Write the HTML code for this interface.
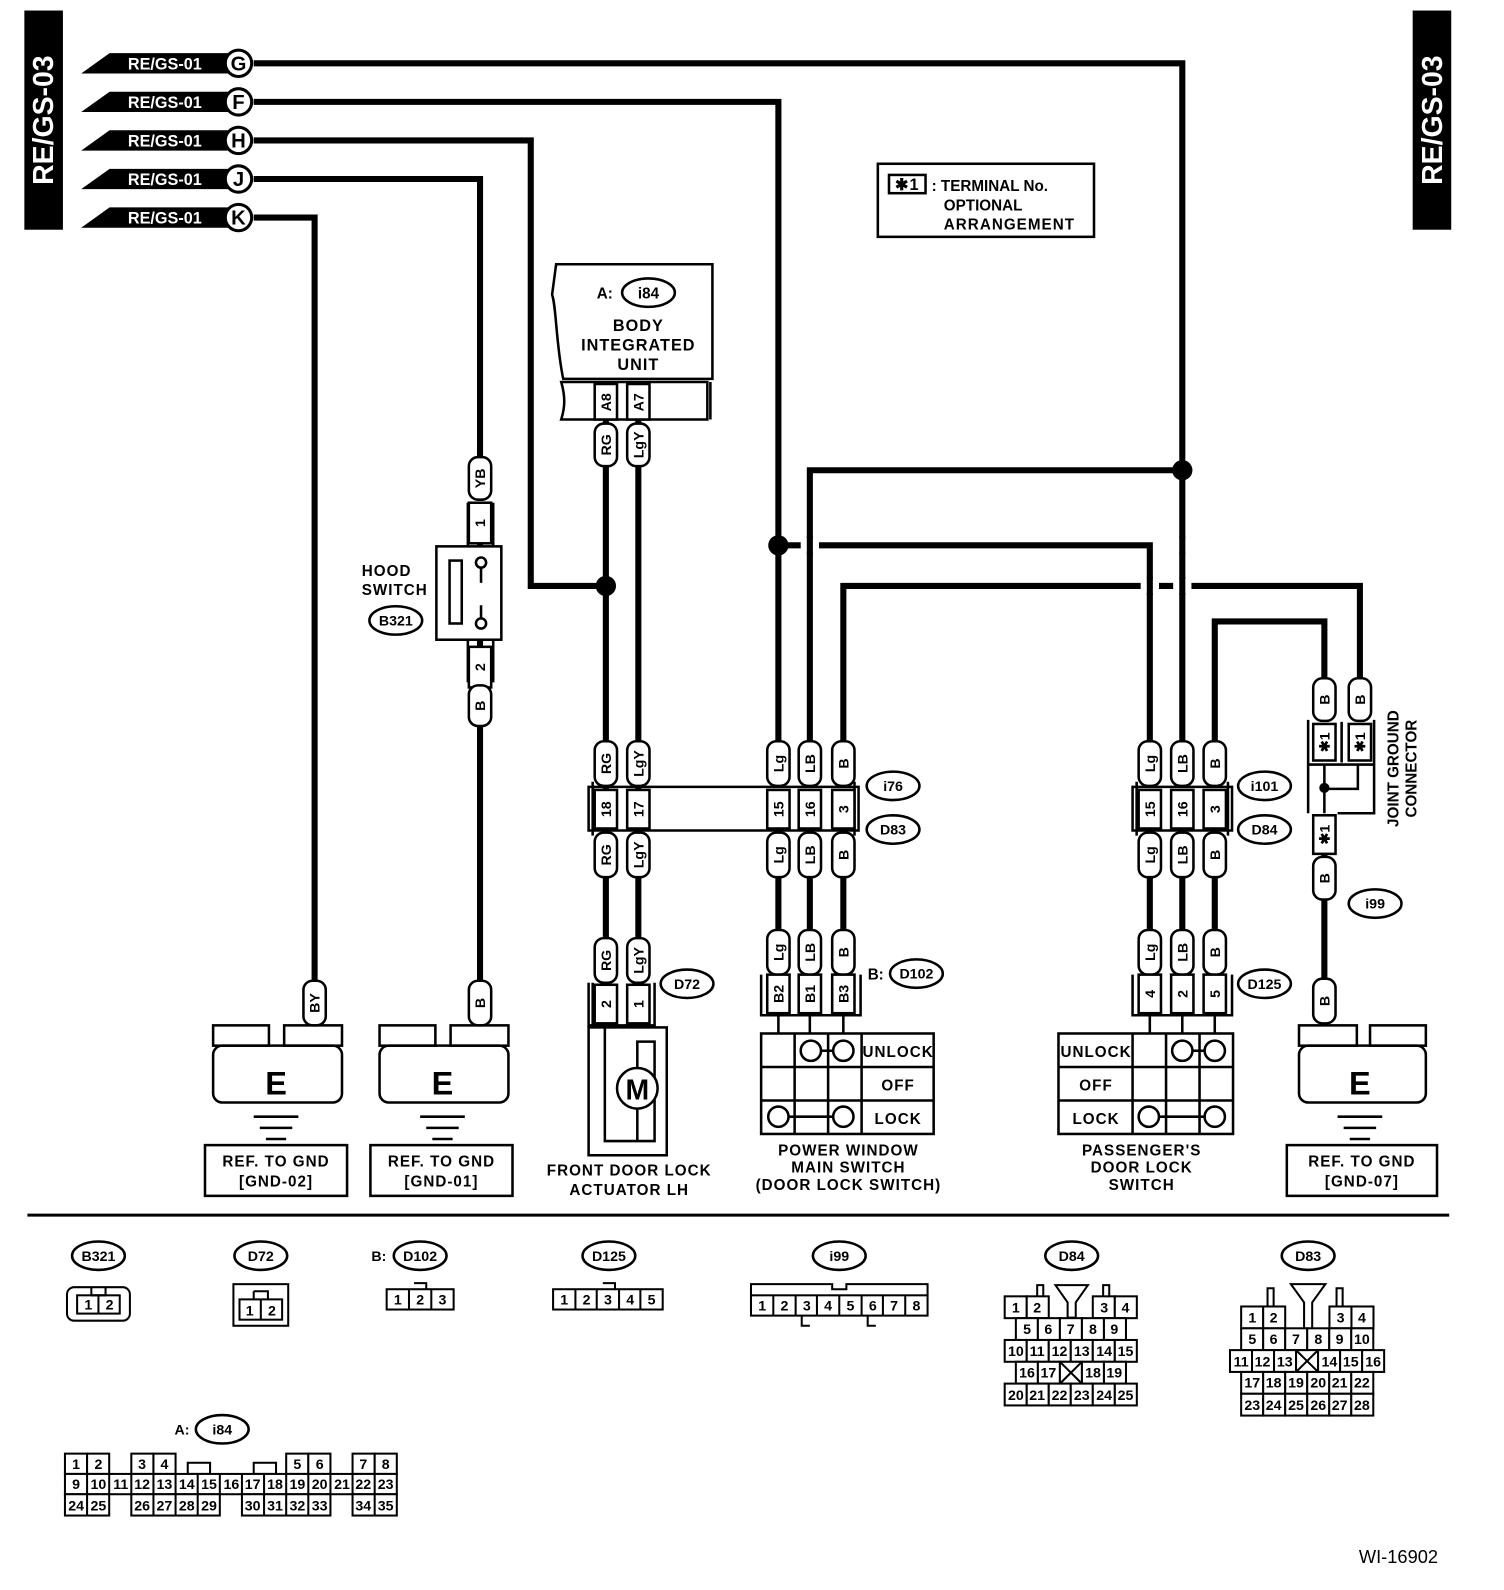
<!DOCTYPE html>
<html><head><meta charset="utf-8"><style>
html,body{margin:0;padding:0;background:#fff}
svg{display:block}
text{font-family:"Liberation Sans",sans-serif;font-weight:bold;fill:#000}
.w{fill:none;stroke:#000;stroke-width:6}
.t{fill:none;stroke:#000;stroke-width:2.5}
.lb{fill:#fff;stroke:#000;stroke-width:2.5}
.v{font-size:14px;text-anchor:middle}
.c{font-size:14px;text-anchor:middle;font-weight:normal}
.s{font-size:16px;text-anchor:middle;letter-spacing:1px}
</style></head><body>
<svg width="1504" height="1590" viewBox="0 0 1482 1566" xmlns="http://www.w3.org/2000/svg">
<rect x="24" y="10" width="38" height="216" fill="#000"/>
<text transform="translate(52,118) rotate(-90)" style="fill:#fff;font-size:28px;text-anchor:middle">RE/GS-03</text>
<rect x="1392" y="10" width="38" height="216" fill="#000"/>
<text transform="translate(1421,118) rotate(-90)" style="fill:#fff;font-size:28px;text-anchor:middle">RE/GS-03</text>

<path class="w" d="M250 62H1165V775"/>
<path class="w" d="M250 100H767V760"/>
<path class="w" d="M250 138H523V577H597"/>
<path class="w" d="M250 176H473V455"/>
<path class="w" d="M250 214H310V965"/>
<path class="w" d="M1165 463H798V760"/>
<path class="w" d="M767 537H1133V760"/>
<path class="w" d="M831 760V577H1340V680"/>
<path class="w" d="M1197 760V612H1305V680"/>
<rect x="789" y="530" width="18" height="14" fill="#fff"/><path class="w" d="M798 528V546"/>
<rect x="1124" y="570" width="18" height="14" fill="#fff"/><path class="w" d="M1133 568V586"/>
<rect x="1156" y="570" width="18" height="14" fill="#fff"/><path class="w" d="M1165 568V586"/>
<rect x="1156" y="530" width="18" height="14" fill="#fff"/><path class="w" d="M1165 528V546"/>
<circle cx="1165" cy="463" r="10"/><circle cx="767" cy="537" r="10"/><circle cx="597" cy="577" r="10"/>
<path class="w" d="M597 413V965M629 413V965"/>
<path class="w" d="M767 820V960M798 820V960M831 820V960"/>
<path class="w" d="M1133 820V960M1165 820V960M1197 820V960"/>
<path class="w" d="M473 520V1005M1305 840V1005"/>

<polygon points="80,72 108,52 230,52 230,72" fill="#000"/>
<polygon points="80,110 108,90 230,90 230,110" fill="#000"/>
<polygon points="80,148 108,128 230,128 230,148" fill="#000"/>
<polygon points="80,186 108,166 230,166 230,186" fill="#000"/>
<polygon points="80,224 108,204 230,204 230,224" fill="#000"/>
<g style="font-size:16px">
<text x="126" y="68" style="fill:#fff">RE/GS-01</text><text x="126" y="106" style="fill:#fff">RE/GS-01</text><text x="126" y="144" style="fill:#fff">RE/GS-01</text><text x="126" y="182" style="fill:#fff">RE/GS-01</text><text x="126" y="220" style="fill:#fff">RE/GS-01</text>
</g>
<circle cx="235" cy="62" r="13" class="lb" style="stroke-width:3"/><circle cx="235" cy="100" r="13" class="lb" style="stroke-width:3"/><circle cx="235" cy="138" r="13" class="lb" style="stroke-width:3"/><circle cx="235" cy="176" r="13" class="lb" style="stroke-width:3"/><circle cx="235" cy="214" r="13" class="lb" style="stroke-width:3"/>
<g style="font-size:20px"><text x="235" y="69" text-anchor="middle">G</text><text x="235" y="107" text-anchor="middle">F</text><text x="235" y="145" text-anchor="middle">H</text><text x="235" y="183" text-anchor="middle">J</text><text x="235" y="221" text-anchor="middle">K</text></g>

<rect x="865" y="161" width="213" height="72" class="t"/>
<rect x="876" y="172" width="36" height="18" class="t"/>
<text x="894" y="187" class="s">✱1</text>
<text x="918" y="188" style="font-size:15px">: TERMINAL No.</text>
<text x="930" y="207" style="font-size:15px">OPTIONAL</text>
<text x="930" y="226" style="font-size:15px;letter-spacing:1px">ARRANGEMENT</text>

<path class="t" d="M548 260H702V373H555C548 340 548 300 544 290Z" fill="#fff"/>
<ellipse cx="639" cy="288" rx="26" ry="14" class="lb"/>
<text x="588" y="294" style="font-size:15px">A:</text><text x="639" y="294" class="v" style="font-size:15px">i84</text>
<text x="629" y="326" class="s">BODY</text><text x="629" y="345" class="s">INTEGRATED</text><text x="629" y="364" class="s">UNIT</text>
<path class="t" d="M553 376H697V413H553C557 400 557 390 553 376ZM700 376V413"/>
<rect x="586" y="378" width="22" height="35" class="lb"/><text transform="translate(602,396) rotate(-90)" class="v">A8</text>
<rect x="618" y="378" width="22" height="35" class="lb"/><text transform="translate(634,396) rotate(-90)" class="v">A7</text>

<rect x="430" y="538" width="64" height="92" class="lb"/>
<rect x="443" y="552" width="12" height="62" class="t"/>
<circle cx="474" cy="554" r="5" class="lb"/><circle cx="474" cy="614" r="5" class="lb"/>
<path class="t" d="M474 559V574M474 609V596"/>
<path class="t" d="M461 495V538M486 495V538M461 630V672M486 630V672"/>
<text x="381" y="567" class="s" style="font-size:15px">HOOD</text><text x="389" y="586" class="s" style="font-size:15px">SWITCH</text>
<ellipse cx="390" cy="611" rx="26" ry="14" class="lb"/><text x="390" y="616" class="v">B321</text>

<path class="t" d="M580 775H846V818H580ZM584 770V823M842 770V823"/>
<path class="t" d="M1116 775H1214V818H1116ZM1120 770V823M1210 770V823"/>
<ellipse cx="880" cy="774" rx="26" ry="14" class="lb"/><text x="880" y="779" class="v">i76</text>
<ellipse cx="880" cy="817" rx="26" ry="14" class="lb"/><text x="880" y="822" class="v">D83</text>
<ellipse cx="1246" cy="774" rx="26" ry="14" class="lb"/><text x="1246" y="779" class="v">i101</text>
<ellipse cx="1246" cy="817" rx="26" ry="14" class="lb"/><text x="1246" y="822" class="v">D84</text>
<ellipse cx="677" cy="969" rx="26" ry="14" class="lb"/><text x="677" y="974" class="v">D72</text>
<text x="855" y="965" style="font-size:15px">B:</text>
<ellipse cx="903" cy="959" rx="26" ry="14" class="lb"/><text x="903" y="964" class="v">D102</text>
<ellipse cx="1246" cy="969" rx="26" ry="14" class="lb"/><text x="1246" y="974" class="v">D125</text>
<ellipse cx="1355" cy="890" rx="26" ry="14" class="lb"/><text x="1355" y="895" class="v">i99</text>
<path class="t" d="M580 968V1010H645V968M584 968V1010"/>
<path class="t" d="M750 960V1000H848V960"/>
<path class="t" d="M1116 960V1000H1214V960"/>

<g class="lb">
<rect x="462" y="450" width="22" height="42" rx="9"/><rect x="462" y="495" width="22" height="40"/>
<rect x="462" y="637" width="22" height="40"/><rect x="462" y="675" width="22" height="40" rx="9"/>
<rect x="299" y="966" width="22" height="44" rx="9"/><rect x="462" y="966" width="22" height="44" rx="9"/>
<rect x="586" y="417" width="22" height="42" rx="9"/><rect x="618" y="417" width="22" height="42" rx="9"/>
<rect x="586" y="730" width="22" height="44" rx="9"/><rect x="618" y="730" width="22" height="44" rx="9"/>
<rect x="756" y="730" width="22" height="44" rx="9"/><rect x="787" y="730" width="22" height="44" rx="9"/><rect x="820" y="730" width="22" height="44" rx="9"/>
<rect x="586" y="778" width="22" height="38"/><rect x="618" y="778" width="22" height="38"/>
<rect x="756" y="778" width="22" height="38"/><rect x="787" y="778" width="22" height="38"/><rect x="820" y="778" width="22" height="38"/>
<rect x="586" y="820" width="22" height="44" rx="9"/><rect x="618" y="820" width="22" height="44" rx="9"/>
<rect x="756" y="820" width="22" height="44" rx="9"/><rect x="787" y="820" width="22" height="44" rx="9"/><rect x="820" y="820" width="22" height="44" rx="9"/>
<rect x="586" y="924" width="22" height="44" rx="9"/><rect x="618" y="924" width="22" height="44" rx="9"/>
<rect x="586" y="970" width="22" height="38"/><rect x="618" y="970" width="22" height="38"/>
<rect x="756" y="916" width="22" height="44" rx="9"/><rect x="787" y="916" width="22" height="44" rx="9"/><rect x="820" y="916" width="22" height="44" rx="9"/>
<rect x="756" y="960" width="22" height="38"/><rect x="787" y="960" width="22" height="38"/><rect x="820" y="960" width="22" height="38"/>
<rect x="1122" y="730" width="22" height="44" rx="9"/><rect x="1154" y="730" width="22" height="44" rx="9"/><rect x="1186" y="730" width="22" height="44" rx="9"/>
<rect x="1122" y="778" width="22" height="38"/><rect x="1154" y="778" width="22" height="38"/><rect x="1186" y="778" width="22" height="38"/>
<rect x="1122" y="820" width="22" height="44" rx="9"/><rect x="1154" y="820" width="22" height="44" rx="9"/><rect x="1186" y="820" width="22" height="44" rx="9"/>
<rect x="1122" y="916" width="22" height="44" rx="9"/><rect x="1154" y="916" width="22" height="44" rx="9"/><rect x="1186" y="916" width="22" height="44" rx="9"/>
<rect x="1122" y="960" width="22" height="38"/><rect x="1154" y="960" width="22" height="38"/><rect x="1186" y="960" width="22" height="38"/>
<rect x="1294" y="668" width="22" height="42" rx="9"/><rect x="1329" y="668" width="22" height="42" rx="9"/>
<rect x="1294" y="713" width="22" height="36"/><rect x="1329" y="713" width="22" height="36"/>
<rect x="1294" y="803" width="22" height="38"/>
<rect x="1294" y="844" width="22" height="42" rx="9"/>
<rect x="1294" y="964" width="22" height="44" rx="9"/>
</g>
<g class="v">
<text transform="translate(478,471) rotate(-90)">YB</text><text transform="translate(478,515) rotate(-90)">1</text>
<text transform="translate(478,657) rotate(-90)">2</text><text transform="translate(478,695) rotate(-90)">B</text>
<text transform="translate(315,988) rotate(-90)">BY</text><text transform="translate(478,988) rotate(-90)">B</text>
<text transform="translate(602,438) rotate(-90)">RG</text><text transform="translate(634,438) rotate(-90)">LgY</text>
<text transform="translate(602,752) rotate(-90)">RG</text><text transform="translate(634,752) rotate(-90)">LgY</text>
<text transform="translate(772,752) rotate(-90)">Lg</text><text transform="translate(803,752) rotate(-90)">LB</text><text transform="translate(836,752) rotate(-90)">B</text>
<text transform="translate(602,797) rotate(-90)">18</text><text transform="translate(634,797) rotate(-90)">17</text>
<text transform="translate(772,797) rotate(-90)">15</text><text transform="translate(803,797) rotate(-90)">16</text><text transform="translate(836,797) rotate(-90)">3</text>
<text transform="translate(602,842) rotate(-90)">RG</text><text transform="translate(634,842) rotate(-90)">LgY</text>
<text transform="translate(772,842) rotate(-90)">Lg</text><text transform="translate(803,842) rotate(-90)">LB</text><text transform="translate(836,842) rotate(-90)">B</text>
<text transform="translate(602,946) rotate(-90)">RG</text><text transform="translate(634,946) rotate(-90)">LgY</text>
<text transform="translate(602,989) rotate(-90)">2</text><text transform="translate(634,989) rotate(-90)">1</text>
<text transform="translate(772,938) rotate(-90)">Lg</text><text transform="translate(803,938) rotate(-90)">LB</text><text transform="translate(836,938) rotate(-90)">B</text>
<text transform="translate(772,979) rotate(-90)">B2</text><text transform="translate(803,979) rotate(-90)">B1</text><text transform="translate(836,979) rotate(-90)">B3</text>
<text transform="translate(1138,752) rotate(-90)">Lg</text><text transform="translate(1170,752) rotate(-90)">LB</text><text transform="translate(1202,752) rotate(-90)">B</text>
<text transform="translate(1138,797) rotate(-90)">15</text><text transform="translate(1170,797) rotate(-90)">16</text><text transform="translate(1202,797) rotate(-90)">3</text>
<text transform="translate(1138,842) rotate(-90)">Lg</text><text transform="translate(1170,842) rotate(-90)">LB</text><text transform="translate(1202,842) rotate(-90)">B</text>
<text transform="translate(1138,938) rotate(-90)">Lg</text><text transform="translate(1170,938) rotate(-90)">LB</text><text transform="translate(1202,938) rotate(-90)">B</text>
<text transform="translate(1138,979) rotate(-90)">4</text><text transform="translate(1170,979) rotate(-90)">2</text><text transform="translate(1202,979) rotate(-90)">5</text>
<text transform="translate(1310,689) rotate(-90)">B</text><text transform="translate(1345,689) rotate(-90)">B</text>
<text transform="translate(1310,731) rotate(-90)">✱1</text><text transform="translate(1345,731) rotate(-90)">✱1</text>
<text transform="translate(1310,822) rotate(-90)">✱1</text>
<text transform="translate(1310,865) rotate(-90)">B</text><text transform="translate(1310,986) rotate(-90)">B</text>
</g>

<!-- joint connector -->
<path class="t" d="M1289 709V801M1354 709V801H1318M1289 753H1354M1322 711V751M1305 753V801M1305 777H1338V753"/>
<circle cx="1305" cy="776" r="5"/>
<text transform="translate(1378,757) rotate(-90)" style="font-size:15px;text-anchor:middle">JOINT GROUND</text>
<text transform="translate(1396,757) rotate(-90)" style="font-size:15px;text-anchor:middle">CONNECTOR</text>

<!-- actuator -->
<rect x="580" y="1012" width="77" height="126" class="t"/>
<path class="t" d="M596 1012V1124H628V1092M628 1052V1026H645V1124H628"/>
<circle cx="628" cy="1072" r="20" class="lb"/>
<text x="628" y="1083" style="font-size:28px;text-anchor:middle">M</text>
<text x="620" y="1158" class="s" style="font-size:15px">FRONT DOOR LOCK</text>
<text x="620" y="1177" class="s" style="font-size:15px">ACTUATOR LH</text>

<path class="t" d="M767 1000V1018M798 1000V1018M831 1000V1018"/>
<rect x="750" y="1018" width="170" height="99" class="t"/>
<path class="t" d="M750 1051H920M750 1084H920M783 1018V1117M816 1018V1117M849 1018V1117"/>
<circle cx="799" cy="1035" r="10" class="lb"/><circle cx="831" cy="1035" r="10" class="lb"/><path class="t" d="M809 1035H821"/>
<circle cx="767" cy="1100" r="10" class="lb"/><circle cx="831" cy="1100" r="10" class="lb"/><path class="t" d="M777 1100H821"/>
<text x="885" y="1041" class="s" style="font-size:15px">UNLOCK</text><text x="885" y="1074" class="s" style="font-size:15px">OFF</text><text x="885" y="1107" class="s" style="font-size:15px">LOCK</text>
<text x="836" y="1138" class="s" style="font-size:15px">POWER WINDOW</text><text x="836" y="1155" class="s" style="font-size:15px">MAIN SWITCH</text><text x="836" y="1172" class="s" style="font-size:15px">(DOOR LOCK SWITCH)</text>

<path class="t" d="M1133 1000V1018M1165 1000V1018M1197 1000V1018"/>
<rect x="1043" y="1018" width="172" height="99" class="t"/>
<path class="t" d="M1043 1051H1215M1043 1084H1215M1116 1018V1117M1149 1018V1117M1182 1018V1117"/>
<circle cx="1165" cy="1035" r="10" class="lb"/><circle cx="1197" cy="1035" r="10" class="lb"/><path class="t" d="M1175 1035H1187"/>
<circle cx="1132" cy="1100" r="10" class="lb"/><circle cx="1197" cy="1100" r="10" class="lb"/><path class="t" d="M1142 1100H1187"/>
<text x="1080" y="1041" class="s" style="font-size:15px">UNLOCK</text><text x="1080" y="1074" class="s" style="font-size:15px">OFF</text><text x="1080" y="1107" class="s" style="font-size:15px">LOCK</text>
<text x="1125" y="1138" class="s" style="font-size:15px">PASSENGER'S</text><text x="1125" y="1155" class="s" style="font-size:15px">DOOR LOCK</text><text x="1125" y="1172" class="s" style="font-size:15px">SWITCH</text>

<g transform="translate(210,1010)">
<rect x="0" y="0" width="55" height="20" class="t"/><rect x="70" y="0" width="57" height="20" class="t"/>
<rect x="0" y="20" width="127" height="56" rx="9" class="t" fill="#fff"/>
<text x="62" y="68" style="font-size:32px;text-anchor:middle">E</text>
<path class="t" d="M40 90H84M46 101H78M52 112H72"/>
</g>
<g transform="translate(374,1010)">
<rect x="0" y="0" width="55" height="20" class="t"/><rect x="70" y="0" width="57" height="20" class="t"/>
<rect x="0" y="20" width="127" height="56" rx="9" class="t" fill="#fff"/>
<text x="62" y="68" style="font-size:32px;text-anchor:middle">E</text>
<path class="t" d="M40 90H84M46 101H78M52 112H72"/>
</g>
<g transform="translate(1280,1010)">
<rect x="0" y="0" width="57" height="20" class="t"/><rect x="70" y="0" width="55" height="20" class="t"/>
<rect x="0" y="20" width="125" height="56" rx="9" class="t" fill="#fff"/>
<text x="60" y="68" style="font-size:32px;text-anchor:middle">E</text>
<path class="t" d="M38 90H82M44 101H76M50 112H70"/>
</g>
<rect x="202" y="1128" width="140" height="50" class="t"/><text x="272" y="1149" class="s" style="font-size:15px">REF. TO GND</text><text x="272" y="1169" class="s" style="font-size:15px">[GND-02]</text>
<rect x="365" y="1128" width="140" height="50" class="t"/><text x="435" y="1149" class="s" style="font-size:15px">REF. TO GND</text><text x="435" y="1169" class="s" style="font-size:15px">[GND-01]</text>
<rect x="1268" y="1128" width="148" height="50" class="t"/><text x="1342" y="1149" class="s" style="font-size:15px">REF. TO GND</text><text x="1342" y="1169" class="s" style="font-size:15px">[GND-07]</text>

<path d="M27 1197H1428" stroke="#000" stroke-width="3"/>

<g>
<ellipse cx="97" cy="1237" rx="26" ry="14" class="lb"/><text x="97" y="1242" class="v">B321</text>
<ellipse cx="257" cy="1237" rx="26" ry="14" class="lb"/><text x="257" y="1242" class="v">D72</text>
<text x="366" y="1242" style="font-size:14px">B:</text><ellipse cx="414" cy="1237" rx="26" ry="14" class="lb"/><text x="414" y="1242" class="v">D102</text>
<ellipse cx="600" cy="1237" rx="26" ry="14" class="lb"/><text x="600" y="1242" class="v">D125</text>
<ellipse cx="827" cy="1237" rx="26" ry="14" class="lb"/><text x="827" y="1242" class="v">i99</text>
<ellipse cx="1056" cy="1237" rx="26" ry="14" class="lb"/><text x="1056" y="1242" class="v">D84</text>
<ellipse cx="1289" cy="1237" rx="26" ry="14" class="lb"/><text x="1289" y="1242" class="v">D83</text>
<text x="172" y="1413" style="font-size:14px">A:</text><ellipse cx="219" cy="1408" rx="26" ry="14" class="lb"/><text x="219" y="1413" class="v">i84</text>
</g>
<g style="stroke:#000;stroke-width:2;fill:none">
<rect x="66" y="1268" width="62" height="33" rx="7"/><rect x="76" y="1276" width="42" height="18"/><path d="M97 1276V1294M90 1268V1276H104V1268"/>
<rect x="230" y="1265" width="54" height="41"/><rect x="236" y="1280" width="42" height="20"/><path d="M257 1280V1300M250 1272H264V1280M250 1272V1280"/>
<rect x="381" y="1270" width="66" height="20"/><path d="M403 1270V1290M425 1270V1290M408 1264H420V1270"/>
<rect x="545" y="1270" width="108" height="20"/><path d="M567 1270V1290M588 1270V1290M610 1270V1290M631 1270V1290M594 1264H606V1270"/>
<rect x="740" y="1276" width="174" height="20"/><path d="M762 1276V1296M784 1276V1296M805 1276V1296M827 1276V1296M849 1276V1296M870 1276V1296M892 1276V1296M740 1276V1265H820V1270H834V1265H914V1276M790 1296V1306H798M855 1296V1306H863"/>
</g>
<g class="c">
<text x="87" y="1290">1</text><text x="108" y="1290">2</text>
<text x="246" y="1296">1</text><text x="268" y="1296">2</text>
<text x="392" y="1285">1</text><text x="414" y="1285">2</text><text x="436" y="1285">3</text>
<text x="556" y="1285">1</text><text x="578" y="1285">2</text><text x="599" y="1285">3</text><text x="621" y="1285">4</text><text x="642" y="1285">5</text>
<text x="751" y="1291">1</text><text x="773" y="1291">2</text><text x="795" y="1291">3</text><text x="816" y="1291">4</text><text x="838" y="1291">5</text><text x="860" y="1291">6</text><text x="881" y="1291">7</text><text x="903" y="1291">8</text>
</g>

<g style="stroke:#000;stroke-width:2;fill:#fff">
<path d="M1022 1277V1266H1028V1277M1087 1277V1266H1093V1277M1040 1266H1072L1060 1283V1298H1052V1283Z"/>
<rect x="990" y="1277" width="21.7" height="21.5"/><rect x="1011.7" y="1277" width="21.7" height="21.5"/><rect x="1076.8" y="1277" width="21.7" height="21.5"/><rect x="1098.5" y="1277" width="21.7" height="21.5"/>
<rect x="1001" y="1298.5" width="21.7" height="21.5"/><rect x="1022.7" y="1298.5" width="21.7" height="21.5"/><rect x="1044.4" y="1298.5" width="21.7" height="21.5"/><rect x="1066.1" y="1298.5" width="21.7" height="21.5"/><rect x="1087.8" y="1298.5" width="21.7" height="21.5"/>
<rect x="990" y="1320" width="21.7" height="21.5"/><rect x="1011.7" y="1320" width="21.7" height="21.5"/><rect x="1033.4" y="1320" width="21.7" height="21.5"/><rect x="1055.1" y="1320" width="21.7" height="21.5"/><rect x="1076.8" y="1320" width="21.7" height="21.5"/><rect x="1098.5" y="1320" width="21.7" height="21.5"/>
<rect x="1001" y="1341.5" width="21.7" height="21.5"/><rect x="1022.7" y="1341.5" width="21.7" height="21.5"/><rect x="1044.4" y="1341.5" width="21.7" height="21.5"/><rect x="1066.1" y="1341.5" width="21.7" height="21.5"/><rect x="1087.8" y="1341.5" width="21.7" height="21.5"/>
<rect x="990" y="1363" width="21.7" height="21.5"/><rect x="1011.7" y="1363" width="21.7" height="21.5"/><rect x="1033.4" y="1363" width="21.7" height="21.5"/><rect x="1055.1" y="1363" width="21.7" height="21.5"/><rect x="1076.8" y="1363" width="21.7" height="21.5"/><rect x="1098.5" y="1363" width="21.7" height="21.5"/>
<path d="M1044.4 1341.5L1066.1 1363M1066.1 1341.5L1044.4 1363"/>
</g>
<g class="c">
<text x="1001" y="1293">1</text><text x="1022" y="1293">2</text><text x="1088" y="1293">3</text><text x="1109" y="1293">4</text>
<text x="1012" y="1314">5</text><text x="1033" y="1314">6</text><text x="1055" y="1314">7</text><text x="1077" y="1314">8</text><text x="1098" y="1314">9</text>
<text x="1001" y="1336">10</text><text x="1022" y="1336">11</text><text x="1044" y="1336">12</text><text x="1066" y="1336">13</text><text x="1088" y="1336">14</text><text x="1109" y="1336">15</text>
<text x="1012" y="1357">16</text><text x="1033" y="1357">17</text><text x="1077" y="1357">18</text><text x="1098" y="1357">19</text>
<text x="1001" y="1379">20</text><text x="1022" y="1379">21</text><text x="1044" y="1379">22</text><text x="1066" y="1379">23</text><text x="1088" y="1379">24</text><text x="1109" y="1379">25</text>
</g>

<g style="stroke:#000;stroke-width:2;fill:#fff">
<path d="M1249 1287V1269H1255V1287M1317 1287V1269H1323V1287M1272 1265H1306L1293 1283V1309H1285V1283Z"/>
<rect x="1223" y="1287" width="21.7" height="21.5"/><rect x="1244.7" y="1287" width="21.7" height="21.5"/><rect x="1310" y="1287" width="21.7" height="21.5"/><rect x="1331.7" y="1287" width="21.7" height="21.5"/>
<rect x="1223" y="1308.5" width="21.7" height="21.5"/><rect x="1244.7" y="1308.5" width="21.7" height="21.5"/><rect x="1266.4" y="1308.5" width="21.7" height="21.5"/><rect x="1288.1" y="1308.5" width="21.7" height="21.5"/><rect x="1309.8" y="1308.5" width="21.7" height="21.5"/><rect x="1331.5" y="1308.5" width="21.7" height="21.5"/>
<rect x="1212" y="1330" width="21.7" height="21.5"/><rect x="1233.7" y="1330" width="21.7" height="21.5"/><rect x="1255.4" y="1330" width="21.7" height="21.5"/><rect x="1277.1" y="1330" width="21.7" height="21.5"/><rect x="1298.8" y="1330" width="21.7" height="21.5"/><rect x="1320.5" y="1330" width="21.7" height="21.5"/><rect x="1342.2" y="1330" width="21.7" height="21.5"/>
<rect x="1223" y="1351.5" width="21.7" height="21.5"/><rect x="1244.7" y="1351.5" width="21.7" height="21.5"/><rect x="1266.4" y="1351.5" width="21.7" height="21.5"/><rect x="1288.1" y="1351.5" width="21.7" height="21.5"/><rect x="1309.8" y="1351.5" width="21.7" height="21.5"/><rect x="1331.5" y="1351.5" width="21.7" height="21.5"/>
<rect x="1223" y="1373" width="21.7" height="21.5"/><rect x="1244.7" y="1373" width="21.7" height="21.5"/><rect x="1266.4" y="1373" width="21.7" height="21.5"/><rect x="1288.1" y="1373" width="21.7" height="21.5"/><rect x="1309.8" y="1373" width="21.7" height="21.5"/><rect x="1331.5" y="1373" width="21.7" height="21.5"/>
<path d="M1277.1 1330L1298.8 1351.5M1298.8 1330L1277.1 1351.5"/>
</g>
<g class="c">
<text x="1234" y="1303">1</text><text x="1255" y="1303">2</text><text x="1321" y="1303">3</text><text x="1342" y="1303">4</text>
<text x="1234" y="1324">5</text><text x="1255" y="1324">6</text><text x="1277" y="1324">7</text><text x="1299" y="1324">8</text><text x="1320" y="1324">9</text><text x="1342" y="1324">10</text>
<text x="1223" y="1346">11</text><text x="1244" y="1346">12</text><text x="1266" y="1346">13</text><text x="1310" y="1346">14</text><text x="1331" y="1346">15</text><text x="1353" y="1346">16</text>
<text x="1234" y="1367">17</text><text x="1255" y="1367">18</text><text x="1277" y="1367">19</text><text x="1299" y="1367">20</text><text x="1320" y="1367">21</text><text x="1342" y="1367">22</text>
<text x="1234" y="1389">23</text><text x="1255" y="1389">24</text><text x="1277" y="1389">25</text><text x="1299" y="1389">26</text><text x="1320" y="1389">27</text><text x="1342" y="1389">28</text>
</g>

<g style="stroke:#000;stroke-width:2;fill:#fff">
<rect x="64" y="1432" width="21.8" height="20"/><rect x="85.8" y="1432" width="21.8" height="20"/><rect x="129.4" y="1432" width="21.8" height="20"/><rect x="151.2" y="1432" width="21.8" height="20"/>
<rect x="282" y="1432" width="21.8" height="20"/><rect x="303.8" y="1432" width="21.8" height="20"/><rect x="347.4" y="1432" width="21.8" height="20"/><rect x="369.2" y="1432" width="21.8" height="20"/>
<rect x="185" y="1441" width="22" height="11"/><rect x="250" y="1441" width="22" height="11"/>
<rect x="64" y="1452" width="327" height="20"/>
<rect x="64" y="1472" width="43.6" height="21"/><rect x="129.4" y="1472" width="87.2" height="21"/><rect x="238.4" y="1472" width="87.2" height="21"/><rect x="347.4" y="1472" width="43.6" height="21"/>
<path d="M85.8 1452V1472M107.6 1452V1472M129.4 1452V1472M151.2 1452V1493M173 1452V1493M194.8 1452V1493M216.6 1452V1472M238.4 1452V1472M260.2 1452V1493M282 1452V1493M303.8 1452V1493M325.6 1452V1472M347.4 1452V1472M369.2 1452V1493M85.8 1472V1493"/>
</g>
<g class="c">
<text x="75" y="1447">1</text><text x="97" y="1447">2</text><text x="140" y="1447">3</text><text x="162" y="1447">4</text><text x="293" y="1447">5</text><text x="315" y="1447">6</text><text x="358" y="1447">7</text><text x="380" y="1447">8</text>
<text x="75" y="1467">9</text><text x="97" y="1467">10</text><text x="119" y="1467">11</text><text x="140" y="1467">12</text><text x="162" y="1467">13</text><text x="184" y="1467">14</text><text x="206" y="1467">15</text><text x="228" y="1467">16</text><text x="249" y="1467">17</text><text x="271" y="1467">18</text><text x="293" y="1467">19</text><text x="315" y="1467">20</text><text x="337" y="1467">21</text><text x="358" y="1467">22</text><text x="380" y="1467">23</text>
<text x="75" y="1488">24</text><text x="97" y="1488">25</text><text x="140" y="1488">26</text><text x="162" y="1488">27</text><text x="184" y="1488">28</text><text x="206" y="1488">29</text><text x="249" y="1488">30</text><text x="271" y="1488">31</text><text x="293" y="1488">32</text><text x="315" y="1488">33</text><text x="358" y="1488">34</text><text x="380" y="1488">35</text>
</g>

<text x="1378" y="1540" style="font-size:18px;font-weight:normal;text-anchor:middle">WI-16902</text>
</svg>
</body></html>
